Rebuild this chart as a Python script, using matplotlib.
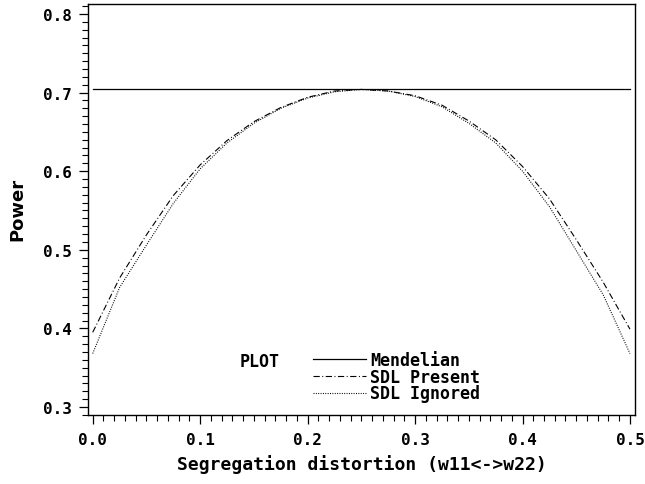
import matplotlib
matplotlib.use("Agg")
import matplotlib.pyplot as plt
from matplotlib.ticker import MultipleLocator, FormatStrFormatter

# ---- data ----
seg_distortion = [0.0, 0.025, 0.05, 0.075, 0.1, 0.125, 0.15, 0.175, 0.2, 0.225,
                  0.25, 0.275, 0.3, 0.325, 0.35, 0.375, 0.4, 0.425, 0.45, 0.475, 0.5]
power_mendelian = [0.704, 0.704, 0.704, 0.704, 0.704, 0.704, 0.704, 0.704, 0.704, 0.704,
                   0.704, 0.704, 0.704, 0.704, 0.704, 0.704, 0.704, 0.704, 0.704, 0.704, 0.704]
power_sdl_present = [0.395, 0.464, 0.519, 0.569, 0.608, 0.639, 0.663, 0.681, 0.694, 0.702,
                     0.704, 0.702, 0.696, 0.684, 0.664, 0.640, 0.606, 0.565, 0.513, 0.459, 0.399]
power_sdl_ignored = [0.368, 0.452, 0.506, 0.559, 0.603, 0.636, 0.661, 0.680, 0.693, 0.701,
                     0.704, 0.702, 0.695, 0.682, 0.661, 0.636, 0.600, 0.555, 0.499, 0.443, 0.368]
series_labels = ["Mendelian", "SDL Present", "SDL Ignored"]
x_label = "Segregation distortion (w11<->w22)"
y_label = "Power"
legend_title = "PLOT"

plt.rcParams['lines.scale_dashes'] = False
W, H = 645, 485
fig = plt.figure(figsize=(W / 100, H / 100), dpi=100)
L, R, T, B = 88, 635, 5, 416
ax = fig.add_axes([L / W, 1 - B / H, (R - L) / W, (B - T) / H])

mono = {'family': 'DejaVu Sans Mono', 'weight': 'bold'}

l1, = ax.plot(seg_distortion, power_mendelian, color='black', lw=0.9, ls='-')
l2, = ax.plot(seg_distortion, power_sdl_present, color='black', lw=0.8,
              dashes=(4.5, 1.8, 0.7, 1.8))
l3, = ax.plot(seg_distortion, power_sdl_ignored, color='black', lw=0.8,
              dashes=(0.7, 1.0))

ax.set_xlim(-0.0044, 0.5047)
ax.set_ylim(0.2898, 0.8127)

ax.xaxis.set_major_locator(MultipleLocator(0.1))
ax.xaxis.set_minor_locator(MultipleLocator(0.01))
ax.yaxis.set_major_locator(MultipleLocator(0.1))
ax.yaxis.set_minor_locator(MultipleLocator(0.01))
ax.xaxis.set_major_formatter(FormatStrFormatter('%.1f'))
ax.yaxis.set_major_formatter(FormatStrFormatter('%.1f'))

ax.tick_params(which='major', direction='out', length=6.5, width=0.9, color='black')
ax.tick_params(which='minor', direction='out', length=4.0, width=0.8, color='black')
ax.tick_params(axis='x', which='major', pad=6)
ax.tick_params(axis='y', which='major', pad=5)
for lab in ax.get_xticklabels() + ax.get_yticklabels():
    lab.set_fontfamily('DejaVu Sans Mono')
    lab.set_fontweight('bold')
    lab.set_fontsize(11.5)

for s in ax.spines.values():
    s.set_linewidth(1.0)
    s.set_color('black')

fig.text((L + R) / 2 / W, 1 - 465 / H, x_label, ha='center', va='center',
         fontsize=13, **mono)
fig.text(17.5 / W, 1 - 209 / H, y_label, ha='center', va='center', rotation=90,
         fontsize=13, family='DejaVu Sans', weight='bold')

leg = ax.legend([l1, l2, l3], series_labels, loc='upper left',
                bbox_to_anchor=(313 / W, 1 - 352 / H), bbox_transform=fig.transFigure,
                frameon=False, borderpad=0, borderaxespad=0, handlelength=3.2,
                handletextpad=0.25, labelspacing=-0.08,
                prop={'family': 'DejaVu Sans Mono', 'weight': 'bold', 'size': 12})
fig.text(240 / W, 1 - 362 / H, legend_title, ha='left', va='center', fontsize=12, **mono)

fig.savefig("out.png", dpi=100)
